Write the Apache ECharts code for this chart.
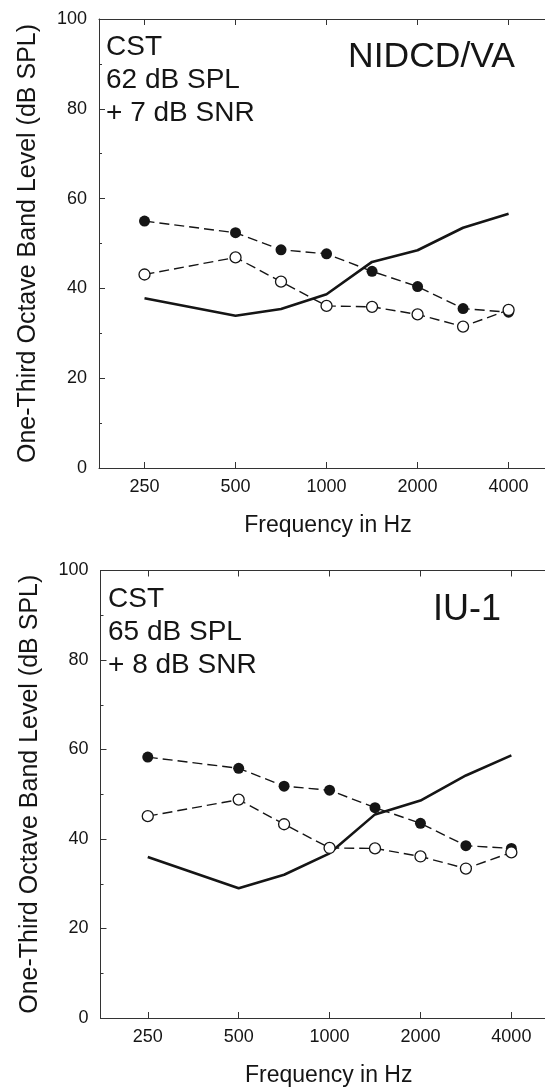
<!DOCTYPE html>
<html>
<head>
<meta charset="utf-8">
<title>CST band levels</title>
<script src="https://cdn.jsdelivr.net/npm/echarts@6/dist/echarts.min.js"></script>
<style>
  html, body { margin: 0; padding: 0; background: #fff; }
  #chart { width: 545px; height: 1091px; }
</style>
</head>
<body>
<div id="chart"></div>
<script>
// 1/3-octave centre frequencies (Hz) of the plotted points
var freqs = [250, 500, 707, 1000, 1414, 2000, 2828, 4000];
var tickFreqs = [250, 500, 1000, 2000, 4000];
var yTicks = [0, 20, 40, 60, 80, 100];

// NIDCD/VA panel
var vaFilled = [55.0, 52.4, 48.6, 47.7, 43.8, 40.4, 35.5, 34.7];
var vaOpen   = [43.1, 46.9, 41.5, 36.1, 35.9, 34.2, 31.5, 35.2];
var vaSolid  = [37.8, 33.9, 35.4, 38.7, 45.9, 48.5, 53.5, 56.6];

// IU-1 panel
var iuFilled = [58.3, 55.8, 51.8, 50.9, 47.0, 43.5, 38.5, 37.9];
var iuOpen   = [45.1, 48.8, 43.3, 38.0, 37.9, 36.1, 33.4, 37.0];
var iuSolid  = [36.0, 29.0, 32.0, 36.8, 45.5, 48.6, 54.2, 58.7];

var font = 'Liberation Sans, Arial, Helvetica, sans-serif';
var ink = '#151515';

// x axis is octaves above 250 Hz
function oct(f) { return Math.log2(f / 250); }
function pts(vals) {
  return vals.map(function (v, i) { return [oct(freqs[i]), v]; });
}
var tickPos = tickFreqs.map(oct);

var chart = echarts.init(document.getElementById('chart'));

var grids = [
  { left: 99, top: 19, right: 0, height: 449 },
  { left: 100.5, top: 570.5, right: 0, height: 447.5 }
];
var xr = [[-0.5, 4.4], [-0.52, 4.37]];

var xAxis = [];
var yAxis = [];
[0, 1].forEach(function (g) {
  xAxis.push({
    type: 'value', gridIndex: g, min: xr[g][0], max: xr[g][1],
    name: 'Frequency in Hz', nameLocation: 'middle', nameGap: 46,
    nameTextStyle: { fontFamily: font, fontSize: 23, color: ink, padding: [0, 0, 0, 12] },
    axisLine: { onZero: false, lineStyle: { color: '#333', width: 1 } },
    axisTick: { inside: true, length: 6, customValues: tickPos, lineStyle: { color: '#333' } },
    axisLabel: {
      customValues: tickPos, margin: 10, fontFamily: font, fontSize: 18, color: ink,
      formatter: function (v) { return String(Math.round(250 * Math.pow(2, v))); }
    },
    splitLine: { show: false }
  });
  xAxis.push({
    type: 'value', gridIndex: g, position: 'top', min: xr[g][0], max: xr[g][1],
    axisLine: { onZero: false, lineStyle: { color: '#333', width: 1 } },
    axisTick: { inside: true, length: 6, customValues: tickPos, lineStyle: { color: '#333' } },
    axisLabel: { show: false },
    splitLine: { show: false }
  });
  yAxis.push({
    type: 'value', gridIndex: g, min: 0, max: 100, interval: 20,
    name: 'One-Third Octave Band Level (dB SPL)', nameLocation: 'middle', nameGap: 58,
    nameTextStyle: { fontFamily: font, fontSize: 25, color: ink },
    axisLine: { show: true, onZero: false, lineStyle: { color: '#333', width: 1 } },
    axisTick: { inside: true, length: 6, lineStyle: { color: '#333' } },
    minorTick: { show: true, splitNumber: 2, length: 3, lineStyle: { color: '#333' } },
    axisLabel: { margin: 12, fontFamily: font, fontSize: 18, color: ink },
    splitLine: { show: false }
  });
});

function solid(g, vals) {
  return {
    type: 'line', xAxisIndex: g * 2, yAxisIndex: g, data: pts(vals),
    symbol: 'none', lineStyle: { color: ink, width: 2.6 }, z: 2
  };
}
function filled(g, vals) {
  return {
    type: 'line', xAxisIndex: g * 2, yAxisIndex: g, data: pts(vals),
    symbol: 'circle', symbolSize: 11,
    itemStyle: { color: ink, borderWidth: 0 },
    lineStyle: { color: ink, width: 1.4, type: [10, 5] }, z: 3
  };
}
function open(g, vals) {
  return {
    type: 'line', xAxisIndex: g * 2, yAxisIndex: g, data: pts(vals),
    symbol: 'circle', symbolSize: 11,
    itemStyle: { color: '#fff', borderColor: ink, borderWidth: 1.3 },
    lineStyle: { color: ink, width: 1.4, type: [10, 5] }, z: 4
  };
}

function label(x, y, text, size) {
  return {
    type: 'text', left: x, top: y,
    style: { text: text, fontFamily: font, fontSize: size, fill: ink, lineHeight: 33 }
  };
}

chart.setOption({
  animation: false,
  grid: grids,
  xAxis: xAxis,
  yAxis: yAxis,
  graphic: [
    label(106, 31, 'CST\n62 dB SPL\n+ 7 dB SNR', 28),
    { type: 'text', right: 30, top: 39, style: { text: 'NIDCD/VA', fontFamily: font, fontSize: 35.5, fill: ink } },
    label(108, 583, 'CST\n65 dB SPL\n+ 8 dB SNR', 28),
    { type: 'text', right: 44, top: 592, style: { text: 'IU-1', fontFamily: font, fontSize: 36, fill: ink } }
  ],
  series: [
    solid(0, vaSolid), filled(0, vaFilled), open(0, vaOpen),
    solid(1, iuSolid), filled(1, iuFilled), open(1, iuOpen)
  ]
});
</script>
</body>
</html>
